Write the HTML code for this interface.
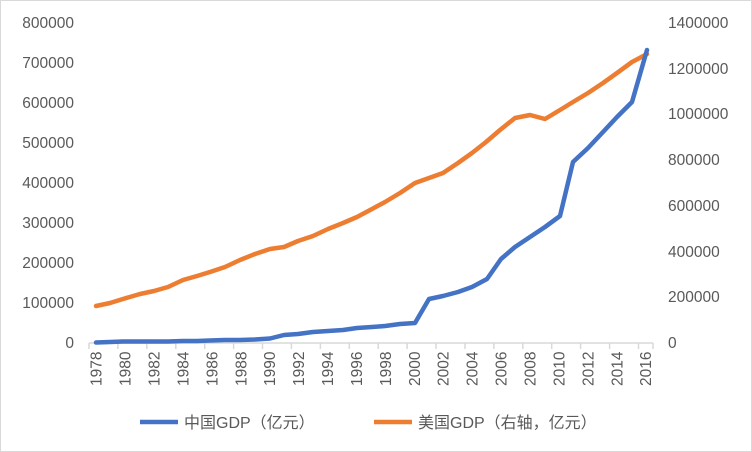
<!DOCTYPE html>
<html><head><meta charset="utf-8"><style>
body{margin:0;background:#fff}
svg{display:block;font-family:"Liberation Sans","Noto Sans CJK SC",sans-serif}
</style></head><body>
<svg width="752" height="452" viewBox="0 0 752 452">
<rect x="0.5" y="0.5" width="751" height="451" fill="#fff" stroke="#d9d9d9"/>
<g font-size="15.5" fill="#595959" text-anchor="end">
<text x="74" y="28">800000</text><text x="74" y="68">700000</text><text x="74" y="108">600000</text><text x="74" y="148">500000</text><text x="74" y="188">400000</text><text x="74" y="228">300000</text><text x="74" y="268">200000</text><text x="74" y="308">100000</text><text x="74" y="348">0</text>
</g>
<g font-size="15.5" fill="#595959" text-anchor="start">
<text x="668" y="28">1400000</text><text x="668" y="74">1200000</text><text x="668" y="119">1000000</text><text x="668" y="165">800000</text><text x="668" y="211">600000</text><text x="668" y="257">400000</text><text x="668" y="302">200000</text><text x="668" y="348">0</text>
</g>
<line x1="89" y1="343" x2="653" y2="343" stroke="#d9d9d9" stroke-width="1.5"/>
<g stroke="#d9d9d9" stroke-width="1.5">
<line x1="89" y1="343" x2="89" y2="349"/><line x1="117.9" y1="343" x2="117.9" y2="349"/><line x1="146.8" y1="343" x2="146.8" y2="349"/><line x1="175.8" y1="343" x2="175.8" y2="349"/><line x1="204.7" y1="343" x2="204.7" y2="349"/><line x1="233.6" y1="343" x2="233.6" y2="349"/><line x1="262.5" y1="343" x2="262.5" y2="349"/><line x1="291.4" y1="343" x2="291.4" y2="349"/><line x1="320.4" y1="343" x2="320.4" y2="349"/><line x1="349.3" y1="343" x2="349.3" y2="349"/><line x1="378.2" y1="343" x2="378.2" y2="349"/><line x1="407.1" y1="343" x2="407.1" y2="349"/><line x1="436" y1="343" x2="436" y2="349"/><line x1="465" y1="343" x2="465" y2="349"/><line x1="493.9" y1="343" x2="493.9" y2="349"/><line x1="522.8" y1="343" x2="522.8" y2="349"/><line x1="551.7" y1="343" x2="551.7" y2="349"/><line x1="580.6" y1="343" x2="580.6" y2="349"/><line x1="609.6" y1="343" x2="609.6" y2="349"/><line x1="638.5" y1="343" x2="638.5" y2="349"/><line x1="653" y1="343" x2="653" y2="349"/>
</g>
<g font-size="15.5" fill="#595959">
<text transform="translate(101.7,386) rotate(-90)">1978</text>
<text transform="translate(130.6,386) rotate(-90)">1980</text>
<text transform="translate(159.5,386) rotate(-90)">1982</text>
<text transform="translate(188.5,386) rotate(-90)">1984</text>
<text transform="translate(217.4,386) rotate(-90)">1986</text>
<text transform="translate(246.3,386) rotate(-90)">1988</text>
<text transform="translate(275.2,386) rotate(-90)">1990</text>
<text transform="translate(304.1,386) rotate(-90)">1992</text>
<text transform="translate(333.1,386) rotate(-90)">1994</text>
<text transform="translate(362,386) rotate(-90)">1996</text>
<text transform="translate(390.9,386) rotate(-90)">1998</text>
<text transform="translate(419.8,386) rotate(-90)">2000</text>
<text transform="translate(448.7,386) rotate(-90)">2002</text>
<text transform="translate(477.7,386) rotate(-90)">2004</text>
<text transform="translate(506.6,386) rotate(-90)">2006</text>
<text transform="translate(535.5,386) rotate(-90)">2008</text>
<text transform="translate(564.4,386) rotate(-90)">2010</text>
<text transform="translate(593.3,386) rotate(-90)">2012</text>
<text transform="translate(622.3,386) rotate(-90)">2014</text>
<text transform="translate(651.2,386) rotate(-90)">2016</text>
</g>
<polyline fill="none" stroke="#ed7d31" stroke-width="4.5" stroke-linejoin="round" stroke-linecap="round" points="96,306 110,303 123,299 140,294 154,291 168,287 183,280 197,276 210,272 225,267 240,260 255,254 270,249 284,247 298,241 313,236 328,229 343,223 357,217 372,209 385,202 400,193 415,183 429,178 443,173 458,163 472,153 486,142 500,130 515,118 530,115 545,119 560,110 573,102 588,93 603,83 617,73 632,62 647,54"/>
<polyline fill="none" stroke="#4472c4" stroke-width="4.5" stroke-linejoin="round" stroke-linecap="round" points="96,342.5 110,342 123,341.5 140,341.5 154,341.5 168,341.5 183,341 197,341 210,340.5 225,340 240,340 255,339.5 270,338.5 284,335 298,334 313,332 328,331 343,330 357,328 372,327 385,326 400,324 415,323 429,299 443,296 458,292 472,287 487,279 501,259 515,247 530,237 545,227 560,216 573,162 588,148 603,132 617,117 632,102 647,50"/>
<line x1="140" y1="422" x2="178" y2="422" stroke="#4472c4" stroke-width="4.5"/>
<text x="184" y="428" font-size="16" fill="#595959">中国GDP（亿元）</text>
<line x1="374" y1="422" x2="412" y2="422" stroke="#ed7d31" stroke-width="4.5"/>
<text x="418" y="428" font-size="16" fill="#595959">美国GDP（右轴，亿元）</text>
</svg>
</body></html>
